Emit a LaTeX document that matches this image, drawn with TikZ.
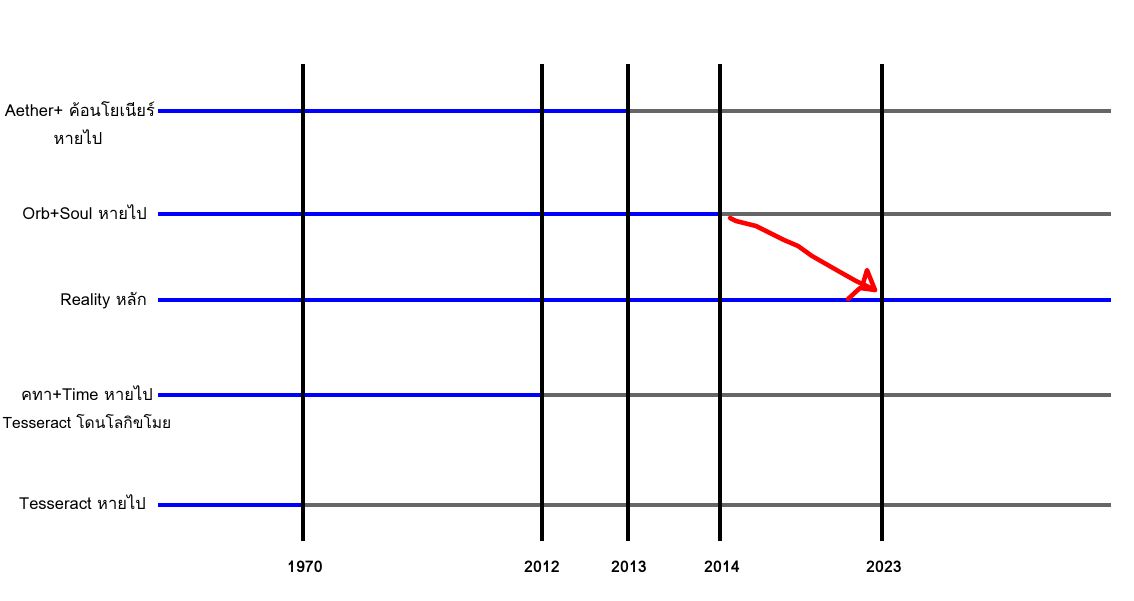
\documentclass[tikz,border=0pt]{standalone}
\usepackage{fontspec}
\setmainfont[Script=Thai]{Loma}
\begin{document}
\begin{tikzpicture}[x=1pt,y=-1pt,
  live/.style={draw={rgb,255:red,0;green,0;blue,255},line width=4.5pt},
  dead/.style={draw={rgb,255:red,102;green,102;blue,102},line width=4.5pt},
  era/.style={draw=black,line width=4pt},
  lbl/.style={font=\fontsize{16.5}{20}\selectfont,inner sep=0pt,anchor=base},
  yr/.style={font=\fontsize{16}{18}\selectfont\bfseries,inner sep=0pt,anchor=base},
  scribble/.style={draw=red,line width=4.5pt,line cap=round,line join=round}]
\useasboundingbox (0,0) rectangle (1134,600);
% horizontal timelines
\coordinate (s1) at (158,111); \coordinate (m1) at (628,111); \coordinate (e1) at (1111,111);
\coordinate (s2) at (158,214); \coordinate (m2) at (720,214); \coordinate (e2) at (1111,214);
\coordinate (s3) at (158,300); \coordinate (e3) at (1111,300);
\coordinate (s4) at (158,395); \coordinate (m4) at (542,395); \coordinate (e4) at (1111,395);
\coordinate (s5) at (158,505); \coordinate (m5) at (303,505); \coordinate (e5) at (1111,505);
\draw[live] (s1) -- (m1); \draw[dead] (m1) -- (e1);
\draw[live] (s2) -- (m2); \draw[dead] (m2) -- (e2);
\draw[live] (s3) -- (e3);
\draw[live] (s4) -- (m4); \draw[dead] (m4) -- (e4);
\draw[live] (s5) -- (m5); \draw[dead] (m5) -- (e5);
% vertical year lines
\foreach \x/\n in {303/a,542/b,628/c,720/d,882/e}{
  \coordinate (t\n) at (\x,64); \coordinate (b\n) at (\x,541);
  \draw[era] (t\n) -- (b\n);
}
% year labels
\node[yr] (y1) at (305,572) {1970};
\node[yr] (y2) at (542,572) {2012};
\node[yr] (y3) at (629,572) {2013};
\node[yr] (y4) at (722,572) {2014};
\node[yr] (y5) at (884,572) {2023};
% row labels
\node[lbl] (l1a) at (80,116) {Aether+ ค้อนโยเนียร์};
\node[lbl] (l1b) at (78,144) {หายไป};
\node[lbl,anchor=base east] (l2) at (147,219) {Orb+Soul หายไป};
\node[lbl,anchor=base east] (l3) at (147,305) {Reality หลัก};
\node[lbl] (l4a) at (87,400) {คทา+Time หายไป};
\node[lbl,font=\fontsize{15.6}{20}\selectfont] (l4b) at (87,428) {Tesseract โดนโลกิขโมย};
\node[lbl,anchor=base east] (l5) at (146,509) {Tesseract หายไป};
% red hand-drawn arrow
\coordinate (r0) at (730,218);
\coordinate (r1) at (875,290);
\draw[scribble] (r0) -- (736,221) -- (744,223) -- (756,226) -- (770,233) -- (784,240) -- (798,246) -- (812,256) -- (826,264) -- (840,272) -- (856,281) -- (r1);
\draw[scribble] (848,299) -- (860,288) -- (r1) -- (867,270) -- (862,287);
\end{tikzpicture}
\end{document}
